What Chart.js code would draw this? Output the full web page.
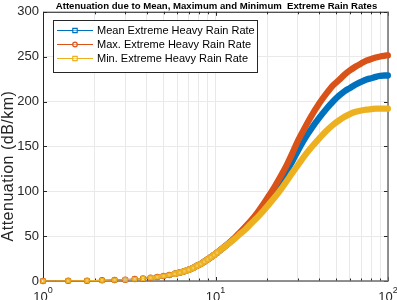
<!DOCTYPE html>
<html lang="en">
<head>
<meta charset="UTF-8">
<title>Attenuation due to Extreme Rain Rates</title>
<style>
  html, body { margin: 0; padding: 0; background: #fff; }
  #chart { display: block; }
</style>
</head>
<body>
<canvas id="chart" width="397" height="300"></canvas>
<script src="https://cdn.jsdelivr.net/npm/chart.js"></script>
<script>
// rain rate on the log axis, and attenuation (dB/km) for each series
const rainRate = [1, 1.4, 1.8, 2.2, 2.6, 3, 3.4, 3.8, 4.2, 4.6, 5, 5.4, 5.8, 6.2, 6.6, 7, 7.4, 7.8, 8.2, 8.6, 9, 9.4, 9.8, 10.2,
  11, 12, 13, 14, 15, 16, 17, 18, 19, 20, 22, 24, 26, 28, 30, 33, 36, 40, 44, 48, 52, 56, 60, 65, 70, 75, 80, 85, 90, 95, 99.8];

const meanAtt = [0.1, 0.2, 0.4, 0.7, 1.1, 1.5, 2.1, 2.8, 3.6, 4.5, 5.5, 6.7, 8, 9.4, 10.9, 12.5, 14.5, 17, 19, 21.5, 24, 26.5, 29, 31.5,
  36.5, 42.5, 48.5, 54.5, 60.5, 66, 71.5, 77, 83, 89, 100, 111, 123, 134, 145, 159, 170, 182, 192, 200, 206.5, 211.5, 215, 219, 222, 224.5, 226, 227.5, 228.5, 229, 229];

const maxAtt = [0.1, 0.2, 0.4, 0.7, 1.1, 1.5, 2.1, 2.8, 3.6, 4.5, 5.5, 6.7, 8, 9.4, 10.9, 12.5, 14.5, 17, 19, 21.5, 24, 26.5, 29, 31.5,
  36.5, 42.5, 48.5, 55, 61, 67, 73, 79.5, 86, 92.5, 105, 117.5, 130, 143, 156, 171, 184, 198, 209, 218, 224, 230, 234.5, 239, 242.5, 245.5, 247.5, 249, 250.2, 251, 251.5];

const minAtt = [0.1, 0.2, 0.4, 0.7, 1.1, 1.5, 2.1, 2.8, 3.6, 4.5, 5.5, 6.7, 8, 9.4, 10.9, 12.5, 14.5, 17, 19, 21.5, 24, 26.5, 29, 31.5,
  36.5, 42, 47.5, 53, 58, 63.5, 68.5, 73.5, 78.5, 83.5, 93, 102.5, 112, 121, 129, 140, 149, 159, 167.5, 174, 179, 183, 186, 188.5, 190, 191, 191.5, 192, 192, 192, 192];

const seriesNames = ['Mean Extreme Heavy Rain Rate', 'Max. Extreme Heavy Rain Rate', 'Min. Extreme Heavy Rain Rate'];
const seriesColors = ['#0072BD', '#D95319', '#EDB120'];
const seriesMarkers = ['rect', 'circle', 'rect'];

const xGridValues = [1, 2, 3, 4, 5, 6, 7, 8, 9, 10, 20, 30, 40, 50, 60, 70, 80, 90, 100];
const xLabelValues = [1, 10, 100];
const xLabelPowers = ['0', '1', '2'];
const yTickValues = [0, 50, 100, 150, 200, 250, 300];

const chartTitle = 'Attenuation due to Mean, Maximum and Minimum  Extreme Rain Rates';
const yTitle = 'Attenuation (dB/km)';

const FONT = "'Liberation Sans', Arial, Helvetica, sans-serif";
const AXIS_COLOR = '#262626';

function makeDataset(label, values, i) {
    return {
        label: label,
        data: rainRate.map((x, k) => ({ x: x, y: values[k] })),
        borderColor: seriesColors[i],
        backgroundColor: 'rgba(255,255,255,0.3)',
        pointStyle: seriesMarkers[i],
        pointRadius: ctx => (ctx.raw && ctx.raw.x <= 10.2) ? 2.6 : 0,
        pointBorderWidth: 1.3,
        pointBorderColor: seriesColors[i],
        pointBackgroundColor: 'rgba(255,255,255,0.3)',
        borderWidth: 1,
        borderCapStyle: 'round',
        borderJoinStyle: 'round',
        cubicInterpolationMode: 'monotone',
        segment: {
            borderWidth: ctx => {
                const x = ctx.p0.parsed.x;
                return x < 4.2 ? 1 : (x < 5.8 ? 3.5 : 6.3);
            }
        },
        clip: false,
        order: 3 - i
    };
}

// box, inward ticks, legend, titles and x labels drawn like MATLAB axes
const matlabAxes = {
    id: 'matlabAxes',
    beforeDatasetsDraw(chart) {
        const { ctx, chartArea: a, scales } = chart;
        ctx.save();
        ctx.strokeStyle = AXIS_COLOR;
        ctx.lineWidth = 1;
        ctx.beginPath();
        yTickValues.forEach(v => {
            const y = Math.round(scales.y.getPixelForValue(v)) + 0.5;
            ctx.moveTo(a.left, y); ctx.lineTo(a.left + 4, y);
            ctx.moveTo(a.right, y); ctx.lineTo(a.right - 4, y);
        });
        xGridValues.forEach(v => {
            const x = Math.round(scales.x.getPixelForValue(v)) + 0.5;
            const len = xLabelValues.includes(v) ? 4 : 2.5;
            ctx.moveTo(x, a.bottom); ctx.lineTo(x, a.bottom - len);
            ctx.moveTo(x, a.top); ctx.lineTo(x, a.top + len);
        });
        ctx.stroke();

        ctx.beginPath();
        ctx.moveTo(a.left + 0.5, a.bottom);
        ctx.lineTo(a.left + 0.5, a.top + 0.5);
        ctx.lineTo(a.right, a.top + 0.5);
        ctx.stroke();
        ctx.strokeStyle = '#6e6e6e';
        ctx.lineWidth = 1.5;
        ctx.beginPath();
        ctx.moveTo(a.left, a.bottom);
        ctx.lineTo(a.right, a.bottom);
        ctx.lineTo(a.right, a.top);
        ctx.stroke();
        ctx.restore();
    },
    afterDraw(chart) {
        const { ctx, chartArea: a, scales } = chart;
        ctx.save();

        // x tick labels 10^n
        ctx.fillStyle = AXIS_COLOR;
        xLabelValues.forEach((v, i) => {
            const x = scales.x.getPixelForValue(v);
            ctx.font = '13px ' + FONT;
            const wBase = ctx.measureText('10').width;
            ctx.font = '9px ' + FONT;
            const wPow = ctx.measureText(xLabelPowers[i]).width;
            const left = x - (wBase + wPow) / 2;
            ctx.textBaseline = 'alphabetic';
            ctx.textAlign = 'left';
            ctx.font = '13px ' + FONT;
            ctx.fillText('10', left, a.bottom + 20);
            ctx.font = '9px ' + FONT;
            ctx.fillText(xLabelPowers[i], left + wBase, a.bottom + 12);
        });

        // y axis title
        ctx.save();
        ctx.translate(9, 166);
        ctx.rotate(-Math.PI / 2);
        ctx.font = '16px ' + FONT;
        ctx.letterSpacing = '0.5px';
        ctx.textAlign = 'center';
        ctx.textBaseline = 'middle';
        ctx.fillStyle = AXIS_COLOR;
        ctx.fillText(yTitle, 0, 0);
        ctx.restore();

        // title
        ctx.fillStyle = '#000';
        ctx.font = 'bold 9.6px ' + FONT;
        ctx.textAlign = 'center';
        ctx.textBaseline = 'middle';
        ctx.fillText(chartTitle, (a.left + a.right) / 2 + 1, 6);

        // legend
        const bx = 53, by = 20, bw = 204, bh = 52;
        ctx.fillStyle = '#fff';
        ctx.fillRect(bx, by, bw, bh);
        ctx.strokeStyle = AXIS_COLOR;
        ctx.lineWidth = 1;
        ctx.strokeRect(bx + 0.5, by + 0.5, bw, bh);
        ctx.font = '11px ' + FONT;
        ctx.textAlign = 'left';
        chart.data.datasets.forEach((ds, i) => {
            const y = by + 10.5 + i * 14;
            ctx.strokeStyle = ds.borderColor;
            ctx.lineWidth = 1;
            ctx.beginPath();
            ctx.moveTo(bx + 4, y); ctx.lineTo(bx + 40, y);
            ctx.stroke();
            ctx.lineWidth = 1.2;
            ctx.beginPath();
            if (ds.pointStyle === 'circle') {
                ctx.arc(bx + 22, y, 2.3, 0, Math.PI * 2);
            } else {
                ctx.rect(bx + 19.8, y - 2.2, 4.4, 4.4);
            }
            ctx.fillStyle = 'rgba(255,255,255,0.5)';
            ctx.fill();
            ctx.stroke();
            ctx.fillStyle = '#000';
            ctx.textBaseline = 'middle';
            ctx.fillText(ds.label, bx + 44, y + 0.5);
        });
        ctx.restore();
    }
};

const chart = new Chart(document.getElementById('chart'), {
    type: 'line',
    data: {
        datasets: [
            makeDataset(seriesNames[0], meanAtt, 0),
            makeDataset(seriesNames[1], maxAtt, 1),
            makeDataset(seriesNames[2], minAtt, 2)
        ]
    },
    options: {
        responsive: false,
        animation: false,
        devicePixelRatio: 1,
        layout: { padding: { top: 11, right: 9, left: 0, bottom: 0 } },
        plugins: {
            legend: { display: false },
            title: { display: false },
            tooltip: { enabled: false }
        },
        scales: {
            x: {
                type: 'logarithmic',
                min: 1,
                max: 100,
                border: { display: false },
                grid: { color: '#e9e9e9', drawTicks: false },
                ticks: { display: false },
                afterBuildTicks: scale => {
                    scale.ticks = xGridValues.map(v => ({ value: v }));
                },
                afterFit: scale => { scale.height = 19; }
            },
            y: {
                min: 0,
                max: 300,
                border: { display: false },
                grid: { color: '#e9e9e9', drawTicks: false },
                ticks: {
                    stepSize: 50,
                    padding: 4,
                    color: AXIS_COLOR,
                    font: { family: FONT, size: 13 }
                },
                afterFit: scale => { scale.width = 43; }
            }
        }
    },
    plugins: [matlabAxes]
});
</script>
</body>
</html>
